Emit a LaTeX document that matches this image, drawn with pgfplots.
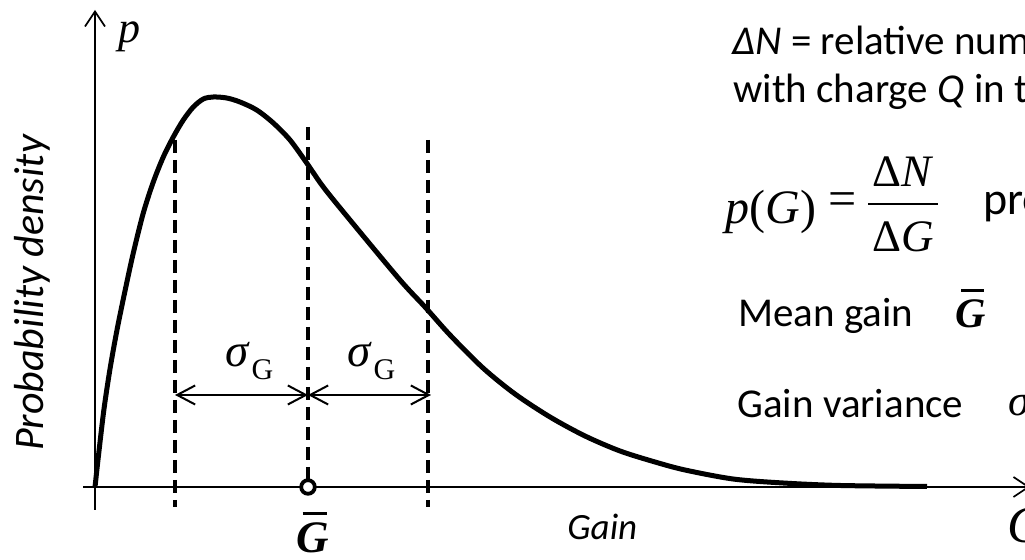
\documentclass[border=0pt]{standalone}
\usepackage{pgfplots}
\usepackage{pgfplotstable}
\pgfplotsset{compat=1.18}
\usetikzlibrary{arrows.meta}
\usepackage{fontspec}
\setmainfont{Carlito}
\newfontfamily\tms{Liberation Serif}

% gain distribution p(G), arbitrary units
\pgfplotstableread{
G      p
0.000  0.000
0.040  0.360
0.090  0.780
0.150  1.180
0.220  1.570
0.300  1.960
0.383  2.340
0.483  2.740
0.583  3.050
0.683  3.300
0.783  3.500
0.883  3.670
0.983  3.800
1.083  3.880
1.183  3.900
1.317  3.890
1.450  3.850
1.617  3.770
1.783  3.640
1.950  3.470
2.117  3.240
2.283  3.000
2.550  2.670
3.050  2.070
3.300  1.800
3.550  1.520
3.880  1.190
4.200  0.930
4.550  0.700
4.900  0.510
5.250  0.360
5.600  0.250
5.900  0.170
6.380  0.080
6.880  0.040
7.450  0.015
8.320  0.005
}\gaincurve

\newcommand\sigG{{\tms\fontsize{23.5}{23.5}\selectfont\itshape σ\hspace{1.5pt}\raisebox{-6.5pt}{\fontsize{15}{15}\selectfont\upshape G}}}
\newcommand\body{\fontsize{20.5}{24}\selectfont}

\begin{document}
\begin{tikzpicture}
\useasboundingbox (0,0) rectangle (512.5pt,280pt);
\clip (0,0) rectangle (512.5pt,280pt);
\begin{axis}[
  at={(0,0)}, anchor=south west,
  scale only axis, width=512.5pt, height=280pt,
  xmin=-0.95, xmax=9.30, ymin=-0.73, ymax=4.87,
  axis lines=none, clip=false,
]
% axes
\draw[line width=0.85pt, -{Straight Barb[length=7.5pt,width=10pt]}]
  (axis cs:0,-0.23) -- (axis cs:0,4.77);
\draw[line width=0.85pt, -{Straight Barb[length=7.5pt,width=10pt]}]
  (axis cs:-0.12,0) -- (axis cs:9.35,0);
% mean and +/- one sigma
\draw[line width=1.9pt, dash pattern=on 6.5pt off 3.5pt] (axis cs:0.80,3.47) -- (axis cs:0.80,-0.20);
\draw[line width=1.9pt, dash pattern=on 6.5pt off 3.5pt] (axis cs:2.13,3.60) -- (axis cs:2.13,0);
\draw[line width=1.9pt, dash pattern=on 6.5pt off 3.5pt] (axis cs:3.33,3.47) -- (axis cs:3.33,-0.20);
% distribution
\addplot[black, line width=2.5pt, smooth, tension=0.5] table[x=G, y=p] {\gaincurve};
% sigma intervals
\draw[line width=1pt, {Straight Barb[length=9pt,width=9.5pt]}-{Straight Barb[length=9pt,width=9.5pt]}]
  (axis cs:0.80,0.92) -- (axis cs:2.13,0.92);
\draw[line width=1pt, {Straight Barb[length=9pt,width=9.5pt]}-{Straight Barb[length=9pt,width=9.5pt]}]
  (axis cs:2.13,0.92) -- (axis cs:3.36,0.92);
% mean gain marker
\addplot[only marks, mark=*, mark size=3.4pt,
  mark options={fill=white, draw=black, line width=1.9pt}] coordinates {(2.13,0)};
\end{axis}

\begin{scope}[shift={(0pt,280pt)}, x=0.5pt, y=-0.5pt]
% axis labels
\node[anchor=base west, inner sep=0] at (118,43) {\tms\fontsize{22}{22}\selectfont\itshape p};
\node[anchor=base, rotate=90, inner sep=0] at (43,293) {\fontsize{21}{22}\selectfont\itshape Probability density};
\node[anchor=base west, inner sep=0] at (567,540) {\fontsize{18.5}{20}\selectfont\itshape Gain};
\node[anchor=base west, inner sep=0] at (1007,543) {\tms\fontsize{26}{26}\selectfont\itshape G};
\node[anchor=base west, inner sep=0] at (296,553) {\tms\fontsize{22.5}{22.5}\selectfont\bfseries\itshape\rlap{\hspace{0.14em}\rule[0.84em]{0.55em}{1.5pt}}G};
% sigma labels
\node[anchor=base west, inner sep=0] at (225,367) {\sigG};
\node[anchor=base west, inner sep=0] at (347,367) {\sigG};
% definitions
\node[anchor=base west, inner sep=0] at (732,55) {\body\textit{ΔN} = relative number of avalanches};
\node[anchor=base west, inner sep=0] at (733,103) {\body with charge \textit{Q} in the interval};
\node[anchor=base west, inner sep=0] at (725,224) {\tms\fontsize{24}{24}\selectfont\textit{p}(\textit{G})};
\node[inner sep=0] at (843,204) {\tms\fontsize{25}{25}\selectfont =};
\node[anchor=base, inner sep=0] at (903,187) {\tms\fontsize{22.5}{22.5}\selectfont Δ\textit{N}};
\draw[line width=1pt] (868,204) -- (938,204);
\node[anchor=base, inner sep=0] at (903,252) {\tms\fontsize{22.5}{22.5}\selectfont Δ\textit{G}};
\node[anchor=base west, inner sep=0] at (983,215) {\fontsize{23}{24}\selectfont probability density};
\node[anchor=base west, inner sep=0] at (738,327) {\body Mean gain};
\node[anchor=base west, inner sep=0] at (955,328) {\tms\fontsize{21}{21}\selectfont\bfseries\itshape\rlap{\hspace{0.14em}\rule[0.86em]{0.55em}{1.5pt}}G};
\node[anchor=base west, inner sep=0] at (737,418) {\body Gain variance};
\node[anchor=base west, inner sep=0] at (1008,416) {\tms\fontsize{22}{22}\selectfont\itshape σ};
\end{scope}
\end{tikzpicture}
\end{document}
